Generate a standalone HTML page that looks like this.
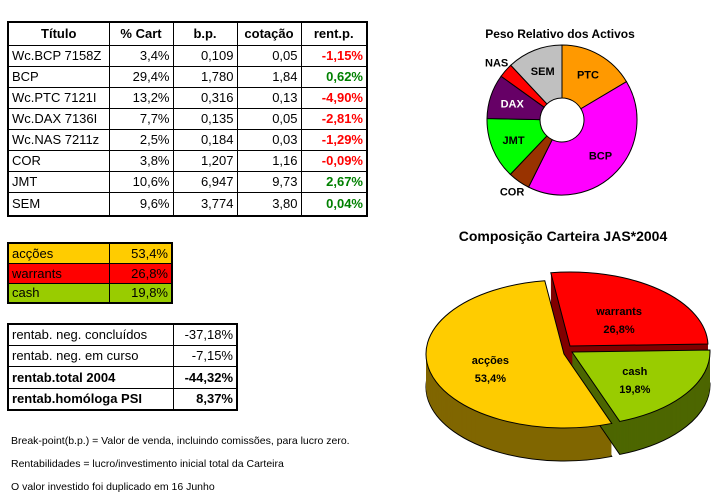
<!DOCTYPE html>
<html><head><meta charset="utf-8"><style>
body{margin:0;width:727px;height:498px;background:#fff;position:relative;overflow:hidden;font-family:"Liberation Sans",sans-serif;}
table{position:absolute;border-collapse:collapse;font-size:13px;}
td{border:1px solid #000;padding:0 3px;height:21px;box-sizing:border-box;white-space:nowrap;}
table.outer{border:2px solid #000;}
.r{text-align:right}.b{font-weight:bold}
.neg{color:#f00;font-weight:bold;text-align:right}.pos{color:#008000;font-weight:bold;text-align:right}
.note{position:absolute;left:11px;font-size:10.5px;}
</style></head><body>
<table class="outer" style="left:7px;top:21px;width:361px">
<tr style="height:23px"><td class="b" style="text-align:center;width:101px">Título</td><td class="b" style="text-align:center;width:64px">% Cart</td><td class="b" style="text-align:center;width:64px">b.p.</td><td class="b" style="text-align:center;width:64px">cotação</td><td class="b" style="text-align:center">rent.p.</td></tr>
<tr><td>Wc.BCP 7158Z</td><td class="r">3,4%</td><td class="r">0,109</td><td class="r">0,05</td><td class="neg">-1,15%</td></tr>
<tr><td>BCP</td><td class="r">29,4%</td><td class="r">1,780</td><td class="r">1,84</td><td class="pos">0,62%</td></tr>
<tr><td>Wc.PTC 7121I</td><td class="r">13,2%</td><td class="r">0,316</td><td class="r">0,13</td><td class="neg">-4,90%</td></tr>
<tr><td>Wc.DAX 7136I</td><td class="r">7,7%</td><td class="r">0,135</td><td class="r">0,05</td><td class="neg">-2,81%</td></tr>
<tr><td>Wc.NAS 7211z</td><td class="r">2,5%</td><td class="r">0,184</td><td class="r">0,03</td><td class="neg">-1,29%</td></tr>
<tr><td>COR</td><td class="r">3,8%</td><td class="r">1,207</td><td class="r">1,16</td><td class="neg">-0,09%</td></tr>
<tr><td>JMT</td><td class="r">10,6%</td><td class="r">6,947</td><td class="r">9,73</td><td class="pos">2,67%</td></tr>
<tr style="height:24px"><td>SEM</td><td class="r">9,6%</td><td class="r">3,774</td><td class="r">3,80</td><td class="pos">0,04%</td></tr>
</table>
<table class="outer" style="left:7px;top:242px;width:166px">
<tr style="background:#ffcc00;height:20px"><td style="width:101px;height:20px">acções</td><td class="r" style="height:20px">53,4%</td></tr>
<tr style="background:#ff0000;height:20px"><td style="height:20px">warrants</td><td class="r" style="height:20px">26,8%</td></tr>
<tr style="background:#99cc00;height:20px"><td style="height:20px">cash</td><td class="r" style="height:20px">19,8%</td></tr>
</table>
<table class="outer" style="left:7px;top:323px;width:231px">
<tr><td style="width:165px">rentab. neg. concluídos</td><td class="r">-37,18%</td></tr>
<tr><td>rentab. neg. em curso</td><td class="r">-7,15%</td></tr>
<tr style="height:22px"><td class="b" style="height:22px">rentab.total 2004</td><td class="r b" style="height:22px">-44,32%</td></tr>
<tr style="height:22px"><td class="b" style="height:22px">rentab.homóloga PSI</td><td class="r b" style="height:22px">8,37%</td></tr>
</table>
<div class="note" style="top:435px">Break-point(b.p.) = Valor de venda, incluindo comissões, para lucro zero.</div>
<div class="note" style="top:458px">Rentabilidades = lucro/investimento inicial total da Carteira</div>
<div class="note" style="top:481px">O valor investido foi duplicado em 16 Junho</div>

<svg id="charts" width="727" height="498" style="position:absolute;left:0;top:0">
<text x="560" y="38" text-anchor="middle" font-size="12" font-weight="bold" font-family="Liberation Sans, sans-serif">Peso Relativo dos Activos</text>
<g id="donut"></g>
<text x="563" y="241" text-anchor="middle" font-size="14" font-weight="bold" font-family="Liberation Sans, sans-serif">Composição Carteira JAS*2004</text>
<g id="pie"></g>
</svg>
<script>
const donutLabels=["PTC","BCP","COR","JMT","DAX","NAS","SEM"];
const donutValues=[13.2,32.8,3.8,10.6,7.7,2.5,9.6];
const donutColors=["#ff9900","#ff00ff","#993300","#00ff00","#660066","#ff0000","#c0c0c0"];
const pieLabels=["warrants","cash","acções"];
const pieValues=[26.8,19.8,53.4];
const pieColors=["#ff0000","#99cc00","#ffcc00"];
const pieSides=["#800000","#4d6600","#806600"];
const NS="http://www.w3.org/2000/svg";
function mk(t,a,p){const e=document.createElementNS(NS,t);for(const k in a)e.setAttribute(k,a[k]);p.appendChild(e);return e;}
// donut
(function(){
const g=document.getElementById('donut');const cx=562,cy=120,R=75,r=22;
const tot=donutValues.reduce((a,b)=>a+b,0);let a0=0;
const pt=(a,rad)=>[cx+rad*Math.sin(a),cy-rad*Math.cos(a)];
donutValues.forEach((v,i)=>{
const a1=a0+v/tot*2*Math.PI;const lg=(a1-a0)>Math.PI?1:0;
const p1=pt(a0,R),p2=pt(a1,R),p3=pt(a1,r),p4=pt(a0,r);
const p=mk('path',{d:`M${p1}A${R},${R} 0 ${lg} 1 ${p2}L${p3}A${r},${r} 0 ${lg} 0 ${p4}Z`,fill:donutColors[i],stroke:'#000','stroke-width':1},g);


const m=(a0+a1)/2;const outside=v<5;const lr=outside?R+12:(R+r)/2+4;
const q=pt(m,lr);
const t=mk('text',{x:q[0],y:q[1]+4,'text-anchor':'middle','font-size':11,'font-weight':'bold','font-family':'Liberation Sans, sans-serif',fill:(donutLabels[i]==='DAX')?'#fff':'#000'},g);
t.textContent=donutLabels[i];


a0=a1;});
})();
// 3d pie
(function(){
const g=document.getElementById('pie');const cx=570,cy=349,rx=138,ry=74,D=33;
const offs=[[0,-3],[2,3],[-6,5]];
const tot=pieValues.reduce((a,b)=>a+b,0);const start=-8*Math.PI/180;
let a=start;const sl=[];
pieValues.forEach((v,i)=>{const a1=a+v/tot*2*Math.PI;sl.push([a,a1]);a=a1;});
function path(i,dy){const [a0,a1]=sl[i];const ox=cx+offs[i][0],oy=cy+offs[i][1]+dy;
const P=t=>[ox+rx*Math.sin(t),oy-ry*Math.cos(t)];const lg=(a1-a0)>Math.PI?1:0;
return `M${ox},${oy}L${P(a0)}A${rx},${ry} 0 ${lg} 1 ${P(a1)}Z`;}
const order=[0,2,1];
order.forEach(i=>{
const b=mk('path',{d:path(i,D),fill:pieSides[i],stroke:'#000','stroke-width':1},g);


for(let d=D-1;d>0;d--){const s=mk('path',{d:path(i,d),fill:pieSides[i]},g);

}
});
order.forEach(i=>{
const t=mk('path',{d:path(i,0),fill:pieColors[i],stroke:'#000','stroke-width':1},g);


const [a0,a1]=sl[i];const m=(a0+a1)/2;
const lx=cx+offs[i][0]+rx*0.55*Math.sin(m),ly=cy+offs[i][1]-ry*0.55*Math.cos(m);
const t1=mk('text',{x:lx,y:ly,'text-anchor':'middle','font-size':11,'font-weight':'bold','font-family':'Liberation Sans, sans-serif'},g);
t1.textContent=pieLabels[i];


const t2=mk('text',{x:lx,y:ly+18,'text-anchor':'middle','font-size':11,'font-weight':'bold','font-family':'Liberation Sans, sans-serif'},g);
t2.textContent=pieValues[i].toFixed(1).replace('.',',')+'%';


});
})();
</script>
</body></html>
